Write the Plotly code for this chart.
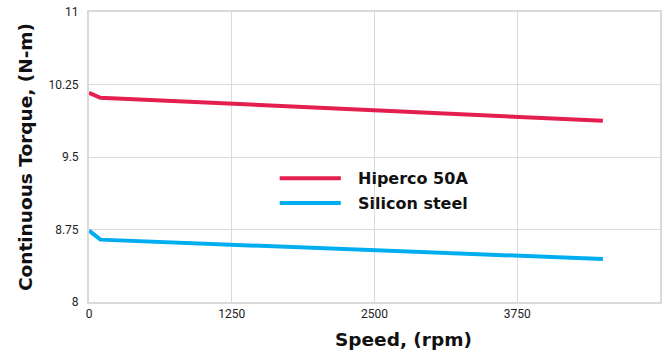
import plotly.graph_objects as go

# Continuous torque vs speed for two lamination materials
speed_rpm = [0, 100, 4500]
hiperco_torque = [10.165, 10.113, 9.875]
silicon_torque = [8.738, 8.645, 8.445]

series_names = ["Hiperco 50A", "Silicon steel"]
series_colors = ["#E41E4E", "#00AEEF"]

x_ticks = [0, 1250, 2500, 3750]
y_ticks = [8, 8.75, 9.5, 10.25, 11]
y_tick_text = ["8", "8.75", "9.5", "10.25", "11"]

fig = go.Figure()
for name, color, vals in zip(series_names, series_colors, [hiperco_torque, silicon_torque]):
    fig.add_trace(go.Scatter(
        x=speed_rpm, y=vals, mode="lines", name=name,
        line=dict(color=color, width=4), showlegend=False,
    ))

# Legend drawn as swatch + bold label pairs inside the plot area
legend_y = [0.427, 0.341]
for name, color, ly in zip(series_names, series_colors, legend_y):
    fig.add_shape(type="line", xref="paper", yref="paper",
                  x0=0.334, x1=0.441, y0=ly, y1=ly,
                  line=dict(color=color, width=4))
    fig.add_annotation(xref="paper", yref="paper", x=0.468, y=ly,
                       text="<b>" + name + "</b>", showarrow=False,
                       xanchor="left", yanchor="middle",
                       font=dict(family="DejaVu Sans", size=16, color="#111111"))

# X-axis title, set slightly right of the plot centre
fig.add_annotation(xref="paper", yref="paper", x=0.5515, y=-0.085,
                   text="<b>Speed, (rpm)</b>", showarrow=False,
                   xanchor="center", yanchor="top",
                   font=dict(family="DejaVu Sans", size=18.5, color="#111111"))

grid_color = "#DADADA"
fig.update_layout(
    width=664, height=352,
    margin=dict(l=89, r=2, t=12, b=50),
    paper_bgcolor="white", plot_bgcolor="white",
    font=dict(family="Roboto", color="#222222"),
    xaxis=dict(
        range=[0, 5000], tickvals=x_ticks, ticktext=[str(v) for v in x_ticks],
        showgrid=True, gridcolor=grid_color, gridwidth=1,
        zeroline=False, showline=True, linecolor=grid_color, linewidth=2,
        mirror=True, ticks="", tickfont=dict(size=12, color="#222222"),
    ),
    yaxis=dict(
        range=[8, 11], tickvals=y_ticks, ticktext=y_tick_text,
        showgrid=True, gridcolor=grid_color, gridwidth=1,
        zeroline=False, showline=True, linecolor=grid_color, linewidth=2,
        mirror=True, ticks="", ticklabelstandoff=6,
        tickfont=dict(size=12, color="#222222"),
        title=dict(text="<b>Continuous Torque, (N-m)</b>",
                   font=dict(family="DejaVu Sans", size=18.5, color="#111111"), standoff=11),
    ),
)

fig.write_html("out.html")
